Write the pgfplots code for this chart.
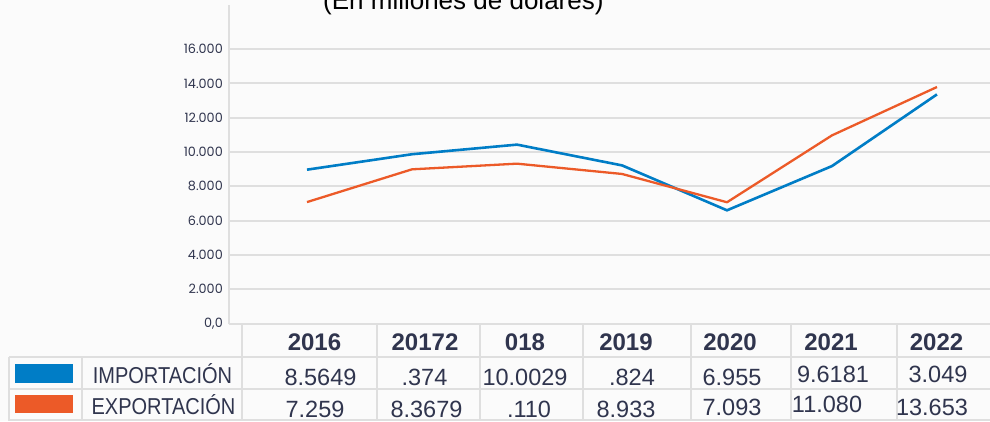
\documentclass[border=0pt]{standalone}
\usepackage{pgfplots}
\pgfplotsset{compat=1.18}
\usepackage{fontspec}
\setmainfont{Liberation Sans}
\newfontfamily\tickfont{Poppins}
\definecolor{impblue}{RGB}{0,125,198}
\definecolor{exporange}{RGB}{236,90,40}
\definecolor{gridgray}{RGB}{223,223,223}
\definecolor{txt}{RGB}{48,53,78}
\definecolor{bg}{RGB}{251,251,251}
\pgfplotstableread{
x imp exp
0 8970 7080
1 9870 8990
2 10430 9320
3 9220 8720
4 6600 7070
5 9180 10970
6 13360 13790
}\datatable
\begin{document}
\begin{tikzpicture}[x=1bp,y=1bp]
\useasboundingbox (0,0) rectangle (990,421);
\clip (0,0) rectangle (990,421);
\fill[bg] (0,0) rectangle (990,421);
\node[anchor=base west, font=\fontsize{26bp}{30bp}\selectfont, inner sep=0pt] at (323,411) {(En millones de dólares)};
\begin{axis}[
  at={(229bp,97.5bp)}, anchor=south west,
  scale only axis, width=761bp, height=318.5bp,
  xmin=-0.743, xmax=6.505, ymin=0, ymax=18572,
  axis x line=bottom, axis y line=left,
  axis line style={-, gridgray, line width=2bp},
  xtick=\empty,
  ytick={0,2000,4000,6000,8000,10000,12000,14000,16000},
  yticklabels={{0,0},2.000,4.000,6.000,8.000,10.000,12.000,14.000,16.000},
  major tick length=0pt,
  yticklabel style={font=\tickfont\fontsize{12.8bp}{14bp}\selectfont, text=txt, inner sep=0pt, xshift=-6bp},
  ymajorgrids, grid style={gridgray, line width=2bp},
  clip=false,
]
\addplot[impblue, line width=2.6bp, line join=round] table[x=x, y=imp] {\datatable};
\addplot[exporange, line width=2.3bp, line join=round] table[x=x, y=exp] {\datatable};
\end{axis}
% table grid
\begin{scope}[gridgray, line width=2bp]
\draw (9,64) -- (990,64);
\draw (9,32) -- (990,32);
\draw (9,1) -- (990,1);
\draw (9,64) -- (9,0);
\draw (82,64) -- (82,0);
\foreach \xx in {242,377,480,583,691,791,897} {\draw (\xx,97.5) -- (\xx,0);}
\end{scope}
\fill[impblue] (15,38) rectangle (73,57);
\fill[exporange] (15,8) rectangle (73,26);
\begin{scope}[every node/.style={inner sep=0pt, anchor=base, text=txt}]
\foreach \xx/\yr in {314.5/2016, 425/20172, 525/018, 626/2019, 730/2020, 831/2021, 936.5/2022}
  {\node[font=\bfseries\fontsize{24bp}{28bp}\selectfont] at (\xx,71) {\yr};}
\node[font=\fontsize{23bp}{27bp}\selectfont] at (162.5,38) {\scalebox{0.87}[1]{IMPORTACIÓN}};
\node[font=\fontsize{23bp}{27bp}\selectfont] at (163.5,7) {\scalebox{0.87}[1]{EXPORTACIÓN}};
\foreach \xx/\yy/\vv in {320.5/36/8.5649, 424.5/36/.374, 525/36/10.0029, 632/36/.824, 732/36/6.955, 833/39/9.6181, 938/39/3.049}
  {\node[font=\fontsize{23.5bp}{27bp}\selectfont] at (\xx,\yy) {\vv};}
\foreach \xx/\yy/\vv in {315/4/7.259, 426.5/4/8.3679, 529/4/.110, 626/4/8.933, 732/6/7.093, 827/9/11.080, 932/6/13.653}
  {\node[font=\fontsize{23.5bp}{27bp}\selectfont] at (\xx,\yy) {\vv};}
\end{scope}
\end{tikzpicture}
\end{document}
